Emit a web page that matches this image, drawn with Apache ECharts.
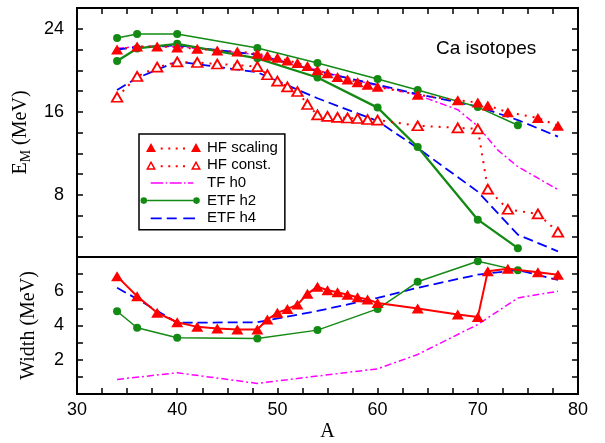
<!DOCTYPE html>
<html><head><meta charset="utf-8">
<script src="https://cdn.jsdelivr.net/npm/echarts@6/dist/echarts.min.js"></script>
<style>html,body{margin:0;padding:0;background:#fff}#c{width:605px;height:443px}</style>
</head><body><div id="c"></div>
<script>
// ---- data ----
const A_hf = [34,36,38,40,42,44,46,48,49,50,51,52,53,54,55,56,57,58,59,60,64,68,70,71,73,76,78];
const hfScalingE = [22.0,22.3,22.3,22.2,22.07,21.9,21.8,21.6,21.4,21.2,20.95,20.7,20.4,20.0,19.7,19.35,19.1,18.85,18.6,18.4,17.65,17.1,16.9,16.6,15.95,15.4,14.65];
const hfConstE   = [17.4,19.4,20.3,20.8,20.75,20.6,20.5,20.35,19.57,18.95,18.4,17.95,16.7,15.7,15.55,15.45,15.4,15.35,15.25,15.2,14.65,14.45,14.35,8.55,6.6,6.15,4.4];
const hfScalingW = [6.87,5.71,4.74,4.19,3.92,3.83,3.77,3.77,4.35,4.74,4.97,5.22,5.85,6.27,6.06,5.94,5.8,5.65,5.52,5.32,4.99,4.64,4.49,7.17,7.32,7.11,6.97];

const A_tf = [34,36,40,48,54,60,64,68,70,72,74,76,78];
const tfH0E = [22.1,22.3,22.3,21.5,20.0,18.5,17.6,16.2,14.6,12.3,10.7,9.6,8.5];
const A_tfW = [34,40,48,54,60,64,70,74,78];
const tfH0W = [0.85,1.24,0.62,1.05,1.47,2.31,4.06,5.61,6.0];

const A_etf2 = [34,36,40,48,54,60,64,70,74];
const etfH2EUpper = [23.1,23.5,23.5,22.15,20.7,19.15,18.1,16.45,14.7];
const etfH2ELower = [20.9,22.1,22.55,21.15,19.3,16.4,12.6,5.6,2.85];
const etfH2W      = [4.83,3.87,3.28,3.24,3.73,4.97,6.55,7.75,7.22];

const A_etf4 = [34,36,40,48,54,60,64,70,74,78];
const etfH4EUpper = [22.0,22.2,22.4,21.5,19.9,18.6,17.7,16.5,15.2,13.6];
const etfH4ELower = [18.1,19.25,20.85,19.8,17.3,15.1,12.5,8.3,4.15,2.55];
const etfH4W      = [6.2,5.55,4.16,4.19,4.85,5.61,6.2,6.97,7.24,6.66];

const xTickLabels = [30,40,50,60,70,80];
const eTickLabels = [8,16,24];
const wTickLabels = [2,4,6];

// ---- helpers ----
const zip = (xs, ys) => xs.map((x, i) => [x, ys[i]]);
const RED = '#ff0000', GREEN = '#138a13', BLUE = '#0000ff', MAG = '#ff00ff';
const SANS = 'Liberation Sans', SERIF = 'Liberation Serif';

const corners = 'M0 0 L0.01 0 L0 0.01 Z M62 14 L61.99 14 L62 13.99 Z ';
function rect(x1, y1, x2, y2) { return `M${x1} ${y1} L${x2} ${y1} L${x2} ${y2} L${x1} ${y2} Z `; }
const triL = 'M6 11.5 L11 2.5 L16 11.5 Z ', triR = 'M51 11.5 L56 2.5 L61 11.5 Z ';
const holeL = 'M8.55 10 L13.45 10 L11 5.59 Z ', holeR = 'M53.55 10 L58.45 10 L56 5.59 Z ';
const dots = [21.7, 29.3, 36.7, 44].map(c => rect(c - 1, 7, c + 1, 9)).join('');
const iconHFs = 'path://' + corners + triL + triR + dots;
const iconHFc = 'path://' + corners + triL + holeL + triR + holeR + dots;
const iconTF = 'path://' + corners + rect(10.7, 6.25, 23.3, 7.75) + rect(25.7, 6.25, 27.2, 7.75) + rect(29.7, 6.25, 41.7, 7.75) + rect(44, 6.25, 45.5, 7.75) + rect(47.8, 6.25, 53.3, 7.75);
const circ = (cx, cy, r) => `M${cx - r} ${cy} A${r} ${r} 0 1 1 ${cx + r} ${cy} A${r} ${r} 0 1 1 ${cx - r} ${cy} Z `;
const iconE2 = 'path://' + corners + circ(3.8, 7, 3.3) + circ(56.5, 7, 3.3) + rect(7.1, 6.25, 53.2, 7.75);
const iconE4 = 'path://' + corners + rect(10.7, 6.1, 21.7, 7.9) + rect(26.7, 6.1, 36.7, 7.9) + rect(43.3, 6.1, 55, 7.9);

const tick = { show: true, inside: true, length: 6, lineStyle: { color: '#000', width: 1.5 } };
const grids = [
  { left: 77, top: 8, width: 501, height: 249, show: true, borderColor: '#000', borderWidth: 2, backgroundColor: 'transparent' },
  { left: 77, top: 257, width: 501, height: 138, show: true, borderColor: '#000', borderWidth: 2, backgroundColor: 'transparent' }
];
const baseX = { type: 'value', min: 30, max: 80, interval: 2.5, axisLine: { show: false }, axisTick: tick, splitLine: { show: false } };
const baseY = { type: 'value', axisLine: { show: false }, axisTick: tick, splitLine: { show: false } };
const labelStyle = { color: '#000', fontFamily: SANS, fontSize: 18 };

const option = {
  animation: false,
  backgroundColor: '#fff',
  grid: grids,
  title: { text: 'Ca isotopes', left: 431, top: 34, textStyle: { fontFamily: SANS, fontSize: 19, fontWeight: 'normal', color: '#000' } },
  legend: {
    orient: 'vertical', left: 139, top: 134, padding: [6, 7, 4, 1], itemGap: 2.7,
    itemWidth: 62, itemHeight: 14, selectedMode: false,
    borderColor: '#000', borderWidth: 1.5, borderRadius: 0,
    textStyle: { fontFamily: SANS, fontSize: 15, color: '#000', lineHeight: 14 },
    itemStyle: { borderWidth: 0 },
    data: [
      { name: 'HF scaling', icon: iconHFs, itemStyle: { color: RED, borderWidth: 0 } },
      { name: 'HF const.', icon: iconHFc, itemStyle: { color: RED, borderWidth: 0 } },
      { name: 'TF h0', icon: iconTF, itemStyle: { color: MAG, borderWidth: 0 } },
      { name: 'ETF h2', icon: iconE2, itemStyle: { color: GREEN, borderWidth: 0 } },
      { name: 'ETF h4', icon: iconE4, itemStyle: { color: BLUE, borderWidth: 0 } }
    ]
  },
  xAxis: [
    Object.assign({}, baseX, { gridIndex: 0, position: 'top', axisLabel: { show: false } }),
    Object.assign({}, baseX, { gridIndex: 1, position: 'bottom',
      axisLabel: Object.assign({ margin: 7, formatter: v => xTickLabels.includes(v) ? String(v) : '' }, labelStyle),
      name: 'A', nameLocation: 'middle', nameGap: 28,
      nameTextStyle: { fontFamily: SERIF, fontSize: 20, color: '#000' } })
  ],
  yAxis: [
    Object.assign({}, baseY, { gridIndex: 0, position: 'left', min: 2, max: 26, interval: 2,
      axisLabel: Object.assign({ margin: 13, formatter: v => eTickLabels.includes(v) ? String(v) : '' }, labelStyle),
      name: '{e|E}{s|M}{e| (MeV)}', nameLocation: 'middle', nameGap: 36, nameRotate: 90,
      nameTextStyle: { rich: {
        e: { fontFamily: SERIF, fontSize: 20, lineHeight: 24, color: '#000' },
        s: { fontFamily: SERIF, fontSize: 14, lineHeight: 14, verticalAlign: 'bottom', color: '#000' } } } }),
    Object.assign({}, baseY, { gridIndex: 0, position: 'right', min: 2, max: 26, interval: 2, axisLabel: { show: false } }),
    Object.assign({}, baseY, { gridIndex: 1, position: 'left', min: 0, max: 8, interval: 1,
      axisLabel: Object.assign({ margin: 13, formatter: v => wTickLabels.includes(v) ? String(v) : '' }, labelStyle),
      name: 'Width (MeV)', nameLocation: 'middle', nameGap: 36, nameRotate: 90,
      nameTextStyle: { fontFamily: SERIF, fontSize: 20, lineHeight: 24, color: '#000' } }),
    Object.assign({}, baseY, { gridIndex: 1, position: 'right', min: 0, max: 8, interval: 1, axisLabel: { show: false } })
  ],
  series: [
    // TF h0
    { name: 'TF h0', type: 'line', xAxisIndex: 0, yAxisIndex: 0, data: zip(A_tf, tfH0E), symbol: 'none', z: 2,
      lineStyle: { color: MAG, width: 1.5, type: [7, 3, 2, 3] }, itemStyle: { color: MAG } },
    { name: 'TF h0', type: 'line', xAxisIndex: 1, yAxisIndex: 2, data: zip(A_tfW, tfH0W), symbol: 'none', z: 2,
      lineStyle: { color: MAG, width: 1.5, type: [7, 3, 2, 3] }, itemStyle: { color: MAG } },
    // ETF h4
    { name: 'ETF h4', type: 'line', xAxisIndex: 0, yAxisIndex: 0, data: zip(A_etf4, etfH4EUpper), symbol: 'none', z: 3,
      lineStyle: { color: BLUE, width: 1.8, type: [10, 5] }, itemStyle: { color: BLUE } },
    { name: 'ETF h4', type: 'line', xAxisIndex: 0, yAxisIndex: 0, data: zip(A_etf4, etfH4ELower), symbol: 'none', z: 3,
      lineStyle: { color: BLUE, width: 1.8, type: [10, 5] }, itemStyle: { color: BLUE } },
    { name: 'ETF h4', type: 'line', xAxisIndex: 1, yAxisIndex: 2, data: zip(A_etf4, etfH4W), symbol: 'none', z: 3,
      lineStyle: { color: BLUE, width: 1.8, type: [10, 5] }, itemStyle: { color: BLUE } },
    // ETF h2
    { name: 'ETF h2', type: 'line', xAxisIndex: 0, yAxisIndex: 0, data: zip(A_etf2, etfH2EUpper), symbol: 'circle', symbolSize: 8, z: 4,
      lineStyle: { color: GREEN, width: 1.5 }, itemStyle: { color: GREEN } },
    { name: 'ETF h2', type: 'line', xAxisIndex: 0, yAxisIndex: 0, data: zip(A_etf2, etfH2ELower), symbol: 'circle', symbolSize: 8, z: 4,
      lineStyle: { color: GREEN, width: 2.3 }, itemStyle: { color: GREEN } },
    { name: 'ETF h2', type: 'line', xAxisIndex: 1, yAxisIndex: 2, data: zip(A_etf2, etfH2W), symbol: 'circle', symbolSize: 8, z: 4,
      lineStyle: { color: GREEN, width: 1.5 }, itemStyle: { color: GREEN } },
    // HF const
    { name: 'HF const.', type: 'line', xAxisIndex: 0, yAxisIndex: 0, data: zip(A_hf, hfConstE), symbol: 'triangle', symbolSize: [10.5, 9], z: 5,
      lineStyle: { color: RED, width: 2, type: [2, 6] }, itemStyle: { color: '#fff', borderColor: RED, borderWidth: 1.8 } },
    // HF scaling
    { name: 'HF scaling', type: 'line', xAxisIndex: 0, yAxisIndex: 0, data: zip(A_hf, hfScalingE), symbol: 'triangle', symbolSize: [12, 10], z: 6,
      lineStyle: { color: RED, width: 2, type: [2, 6] }, itemStyle: { color: RED } },
    { name: 'HF scaling', type: 'line', xAxisIndex: 1, yAxisIndex: 2, data: zip(A_hf, hfScalingW), symbol: 'triangle', symbolSize: [12, 10], z: 6,
      lineStyle: { color: RED, width: 2 }, itemStyle: { color: RED } }
  ]
};
const chart = echarts.init(document.getElementById('c'), null, { renderer: 'canvas' });
chart.setOption(option);
</script></body></html>
